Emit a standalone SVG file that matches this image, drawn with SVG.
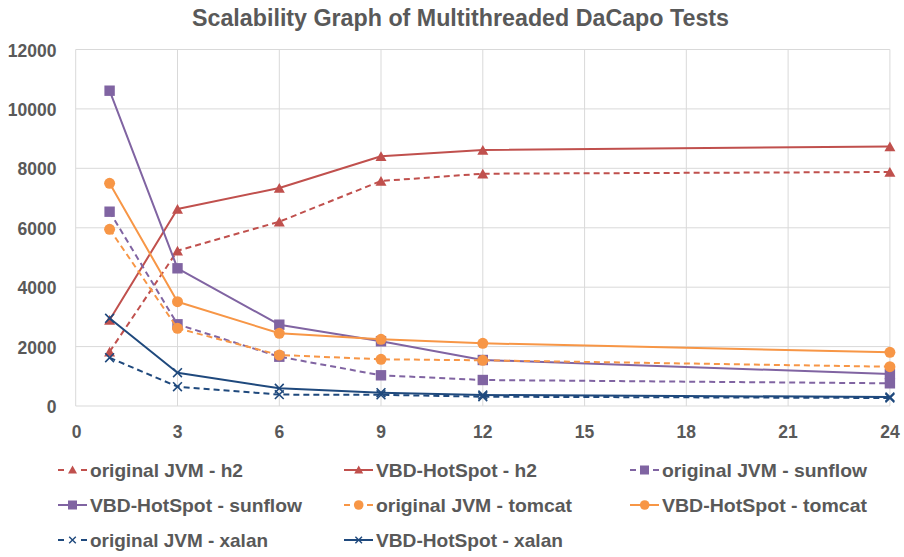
<svg xmlns="http://www.w3.org/2000/svg" width="904" height="557" viewBox="0 0 904 557">
<style>
text{font-family:"Liberation Sans",Arial,sans-serif;font-weight:bold;fill:#595959}
.title{font-size:23px}
.ax{font-size:17.5px}
.leg{font-size:19px}
.grid{stroke:#d9d9d9;stroke-width:1;fill:none}
.s{fill:none;stroke-width:2;stroke-linejoin:round}
.d{stroke-dasharray:6 4}
.red{stroke:#C0504D}
.pur{stroke:#8064A2}
.ora{stroke:#F79646}
.blu{stroke:#1F497D}
</style>
<defs>
<marker id="mTri" markerUnits="userSpaceOnUse" markerWidth="14" markerHeight="14" refX="7" refY="7" overflow="visible"><path d="M7,2 L12.5,11.7 L1.5,11.7 Z" fill="#C0504D"/></marker>
<marker id="mSq" markerUnits="userSpaceOnUse" markerWidth="14" markerHeight="14" refX="7" refY="7" overflow="visible"><rect x="1.8" y="1.8" width="10.4" height="10.4" fill="#8064A2"/></marker>
<marker id="mCir" markerUnits="userSpaceOnUse" markerWidth="14" markerHeight="14" refX="7" refY="7" overflow="visible"><circle cx="7" cy="7" r="5.5" fill="#F79646"/></marker>
<marker id="mX" markerUnits="userSpaceOnUse" markerWidth="14" markerHeight="14" refX="7" refY="7" overflow="visible"><path d="M2.6,2.6 L11.4,11.4 M11.4,2.6 L2.6,11.4" stroke="#1F497D" stroke-width="1.6" fill="none"/></marker>
</defs>

<text class="title" x="460.5" y="26" text-anchor="middle" textLength="537" lengthAdjust="spacingAndGlyphs">Scalability Graph of Multithreaded DaCapo Tests</text>

<g id="grid">
<path class="grid" d="M75.7,49.5H889.9M75.7,108.9H889.9M75.7,168.3H889.9M75.7,227.8H889.9M75.7,287.2H889.9M75.7,346.6H889.9M75.7,406H889.9"/>
<path class="grid" d="M75.7,49.5V406M177.5,49.5V406M279.3,49.5V406M381,49.5V406M482.8,49.5V406M584.6,49.5V406M686.3,49.5V406M788.1,49.5V406M889.9,49.5V406"/>
</g>

<g id="yaxis">
<text class="ax" x="56.5" y="56.5" text-anchor="end">12000</text>
<text class="ax" x="56.5" y="115.9" text-anchor="end">10000</text>
<text class="ax" x="56.5" y="175.3" text-anchor="end">8000</text>
<text class="ax" x="56.5" y="234.8" text-anchor="end">6000</text>
<text class="ax" x="56.5" y="294.2" text-anchor="end">4000</text>
<text class="ax" x="56.5" y="353.6" text-anchor="end">2000</text>
<text class="ax" x="56.5" y="413.3" text-anchor="end">0</text>
</g>
<g id="xaxis">
<text class="ax" x="76.5" y="438.3" text-anchor="middle">0</text>
<text class="ax" x="177.5" y="438.3" text-anchor="middle">3</text>
<text class="ax" x="279.3" y="438.3" text-anchor="middle">6</text>
<text class="ax" x="381" y="438.3" text-anchor="middle">9</text>
<text class="ax" x="482.8" y="438.3" text-anchor="middle">12</text>
<text class="ax" x="584.6" y="438.3" text-anchor="middle">15</text>
<text class="ax" x="686.3" y="438.3" text-anchor="middle">18</text>
<text class="ax" x="788.1" y="438.3" text-anchor="middle">21</text>
<text class="ax" x="889.9" y="438.3" text-anchor="middle">24</text>
</g>

<g id="series">
<polyline id="orig-h2" class="s d red" points="109.6,351.7 177.5,250.7 279.3,221.7 381,181 482.8,173.7 889.9,172" marker-start="url(#mTri)" marker-mid="url(#mTri)" marker-end="url(#mTri)"/>
<polyline id="vbd-h2" class="s red" points="109.6,320 177.5,209 279.3,188 381,156.3 482.8,150 889.9,146.5" marker-start="url(#mTri)" marker-mid="url(#mTri)" marker-end="url(#mTri)"/>
<polyline id="orig-sunflow" class="s d pur" points="109.6,211.7 177.5,324.3 279.3,356.7 381,375.3 482.8,380 889.9,383.3" marker-start="url(#mSq)" marker-mid="url(#mSq)" marker-end="url(#mSq)"/>
<polyline id="vbd-sunflow" class="s pur" points="109.6,90.7 177.5,268.3 279.3,324.7 381,341.3 482.8,360 889.9,374" marker-start="url(#mSq)" marker-mid="url(#mSq)" marker-end="url(#mSq)"/>
<polyline id="orig-tomcat" class="s d ora" points="109.6,229.3 177.5,328.3 279.3,355 381,359.3 482.8,360.3 889.9,366.7" marker-start="url(#mCir)" marker-mid="url(#mCir)" marker-end="url(#mCir)"/>
<polyline id="vbd-tomcat" class="s ora" points="109.6,183.3 177.5,301.7 279.3,333.3 381,339.3 482.8,343.3 889.9,352.3" marker-start="url(#mCir)" marker-mid="url(#mCir)" marker-end="url(#mCir)"/>
<polyline id="orig-xalan" class="s d blu" points="109.6,357.7 177.5,386.7 279.3,394.6 381,394.8 482.8,396.7 889.9,398" marker-start="url(#mX)" marker-mid="url(#mX)" marker-end="url(#mX)"/>
<polyline id="vbd-xalan" class="s blu" points="109.6,318.3 177.5,372.7 279.3,388.3 381,392.7 482.8,395 889.9,397" marker-start="url(#mX)" marker-mid="url(#mX)" marker-end="url(#mX)"/>
</g>

<g id="legend">
<g id="leg-orig-h2">
<path class="s red" d="M58,470H64M81,470H87"/>
<path d="M72.5,465.6 L77,473.6 L68,473.6 Z" fill="#C0504D"/>
<text class="leg" x="90" y="477" textLength="153" lengthAdjust="spacingAndGlyphs">original JVM - h2</text>
</g>
<g id="leg-vbd-h2">
<path class="s red" d="M344,470H373"/>
<path d="M358.7,465.6 L363.2,473.6 L354.2,473.6 Z" fill="#C0504D"/>
<text class="leg" x="376" y="477" textLength="161" lengthAdjust="spacingAndGlyphs">VBD-HotSpot - h2</text>
</g>
<g id="leg-orig-sunflow">
<path class="s pur" d="M630,470H636M653,470H659"/>
<rect x="640" y="465.5" width="9" height="9" fill="#8064A2"/>
<text class="leg" x="662" y="477" textLength="205" lengthAdjust="spacingAndGlyphs">original JVM - sunflow</text>
</g>
<g id="leg-vbd-sunflow">
<path class="s pur" d="M58,505H87"/>
<rect x="68" y="500.5" width="9" height="9" fill="#8064A2"/>
<text class="leg" x="90" y="512" textLength="212" lengthAdjust="spacingAndGlyphs">VBD-HotSpot - sunflow</text>
</g>
<g id="leg-orig-tomcat">
<path class="s ora" d="M344,505H350M367,505H373"/>
<circle cx="358.7" cy="505" r="4.8" fill="#F79646"/>
<text class="leg" x="376" y="512" textLength="196" lengthAdjust="spacingAndGlyphs">original JVM - tomcat</text>
</g>
<g id="leg-vbd-tomcat">
<path class="s ora" d="M630,505H659"/>
<circle cx="644.7" cy="505" r="4.8" fill="#F79646"/>
<text class="leg" x="662" y="512" textLength="205" lengthAdjust="spacingAndGlyphs">VBD-HotSpot - tomcat</text>
</g>
<g id="leg-orig-xalan">
<path class="s blu" d="M58,540H64M81,540H87"/>
<path d="M69.2,536.7 L75.8,543.3 M75.8,536.7 L69.2,543.3" stroke="#1F497D" stroke-width="1.4" fill="none"/>
<text class="leg" x="90" y="547" textLength="178" lengthAdjust="spacingAndGlyphs">original JVM - xalan</text>
</g>
<g id="leg-vbd-xalan">
<path class="s blu" d="M344,540H373"/>
<path d="M355.4,536.7 L362,543.3 M362,536.7 L355.4,543.3" stroke="#1F497D" stroke-width="1.4" fill="none"/>
<text class="leg" x="376" y="547" textLength="187" lengthAdjust="spacingAndGlyphs">VBD-HotSpot - xalan</text>
</g>
</g>
</svg>
